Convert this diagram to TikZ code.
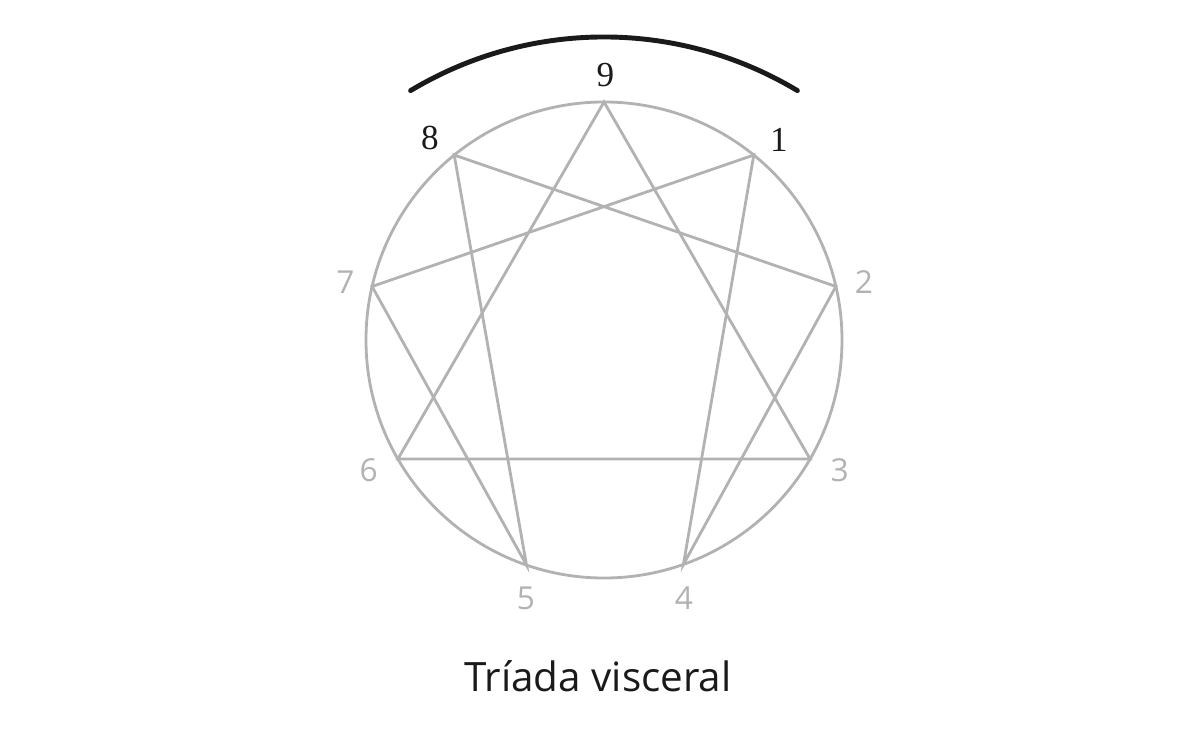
\documentclass[tikz,border=0pt]{standalone}
\usepackage{fontspec}
\setmainfont{Liberation Serif}
\setsansfont{Open Sans}
\definecolor{enneagray}{RGB}{178,178,178}
\definecolor{inkblack}{RGB}{26,26,26}
\tikzset{
  figure/.style={enneagray, line width=1.6pt, line join=miter},
  bracket/.style={inkblack, line width=2.8pt, line cap=round},
  blacknum/.style={font=\fontsize{20}{20}\selectfont, text=inkblack},
  graynum/.style={font=\sffamily\fontsize{18}{18}\selectfont, text=enneagray},
}
\begin{document}
\begin{tikzpicture}[x=0.02cm,y=0.02cm]
            \useasboundingbox (-604,-401) rectangle (596,340);
            \coordinate (O) at (0,0);\coordinate (P9) at (90:238);\coordinate (P1) at (51:238);\coordinate (P2) at (13:238);\coordinate (P3) at (-30:238);\coordinate (P4) at (-70.5:238);\coordinate (P5) at (-109:238);\coordinate (P6) at (210:238);\coordinate (P7) at (167:238);\coordinate (P8) at (129:238);\coordinate (arcL) at (-193.4,249.4);

            \draw[figure] (O) circle (238);
            \draw[figure] (P9) -- (P3) -- (P6) -- cycle;
            \draw[figure] (P1) -- (P4) -- (P2) -- (P8) -- (P5) -- (P7) -- cycle;

            \draw[bracket] (arcL) arc[start angle=121, end angle=59, radius=375.5];

            \node[blacknum] (L9) at (1.5,265) {9};
            \node[blacknum] (L8) at (-174,202) {8};
            \node[blacknum] (L1) at (175,200) {1};
            \foreach \num/\pos in {7/{(-258.5,58)}, 2/{(260,58)}, 6/{(-235.4,-130)}, 3/{(235.6,-130)}, 5/{(-78,-258)}, 4/{(80,-258)}} {
                \node[graynum] (L\num) at \pos {\num};
            }

            \node[font=\sffamily\fontsize{23}{23}\selectfont, text=inkblack, anchor=base] (title) at (-6,-351.7) {Tríada visceral};
\end{tikzpicture}
\end{document}
